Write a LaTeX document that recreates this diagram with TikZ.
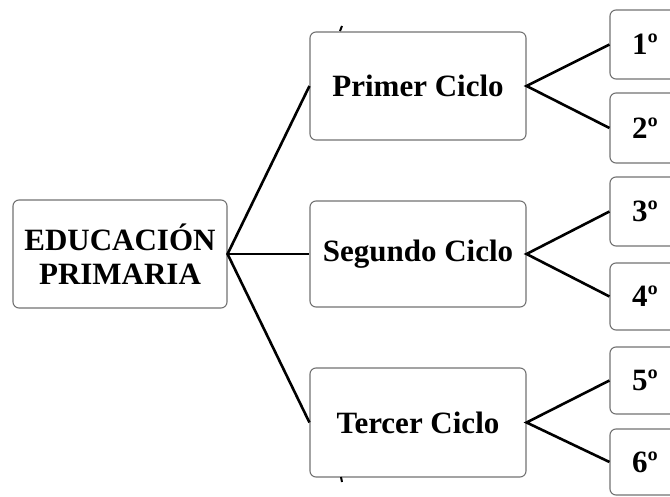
\documentclass[tikz,border=0pt]{standalone}
\usepackage{fontspec}
\setmainfont{Liberation Serif}
\begin{document}
\begin{tikzpicture}[x=1pt,y=-1pt,
  box/.style={draw=black!55, line width=1.1pt, rounded corners=6pt, fill=white,
    inner sep=0pt, font=\bfseries\fontsize{31}{34}\selectfont, align=center},
  link/.style={line width=2.6pt, black},
  tick/.style={line width=2pt, black}]
\useasboundingbox (0,0) rectangle (670,497);
\clip (0,0) rectangle (670,497);
\fill[white] (0,0) rectangle (670,497);
% left
\node[box, minimum width=214pt, minimum height=108pt] (ep) at (120,254) {EDUCACIÓN\\PRIMARIA};
% middle
\node[box, minimum width=216pt, minimum height=108pt] (c1) at (418,86) {Primer Ciclo};
\node[box, minimum width=216pt, minimum height=106pt] (c2) at (418,254) {Segundo Ciclo};
\node[box, minimum width=216pt, minimum height=109pt] (c3) at (418,422.5) {Tercer Ciclo};
% right
\node[box, minimum width=70pt, minimum height=69pt] (g1) at (645,44.5) {1º};
\node[box, minimum width=70pt, minimum height=70pt] (g2) at (645,128) {2º};
\node[box, minimum width=70pt, minimum height=69pt] (g3) at (645,211.5) {3º};
\node[box, minimum width=70pt, minimum height=67pt] (g4) at (645,296.5) {4º};
\node[box, minimum width=70pt, minimum height=67pt] (g5) at (645,380.5) {5º};
\node[box, minimum width=70pt, minimum height=66pt] (g6) at (645,462) {6º};
% connectors
\draw[link] (c1.west) -- (ep.east) -- (c3.west);
\draw[link] (ep.east) -- (c2.west);
\draw[link] (g1.west) -- (c1.east) -- (g2.west);
\draw[link] (g3.west) -- (c2.east) -- (g4.west);
\draw[link] (g5.west) -- (c3.east) -- (g6.west);
% small stray marks
\coordinate (t1) at (340,31);
\coordinate (t2) at (342,26);
\coordinate (b1) at (341,477);
\coordinate (b2) at (342,482);
\draw[tick] (t1) -- (t2);
\draw[tick] (b1) -- (b2);
\end{tikzpicture}
\end{document}
